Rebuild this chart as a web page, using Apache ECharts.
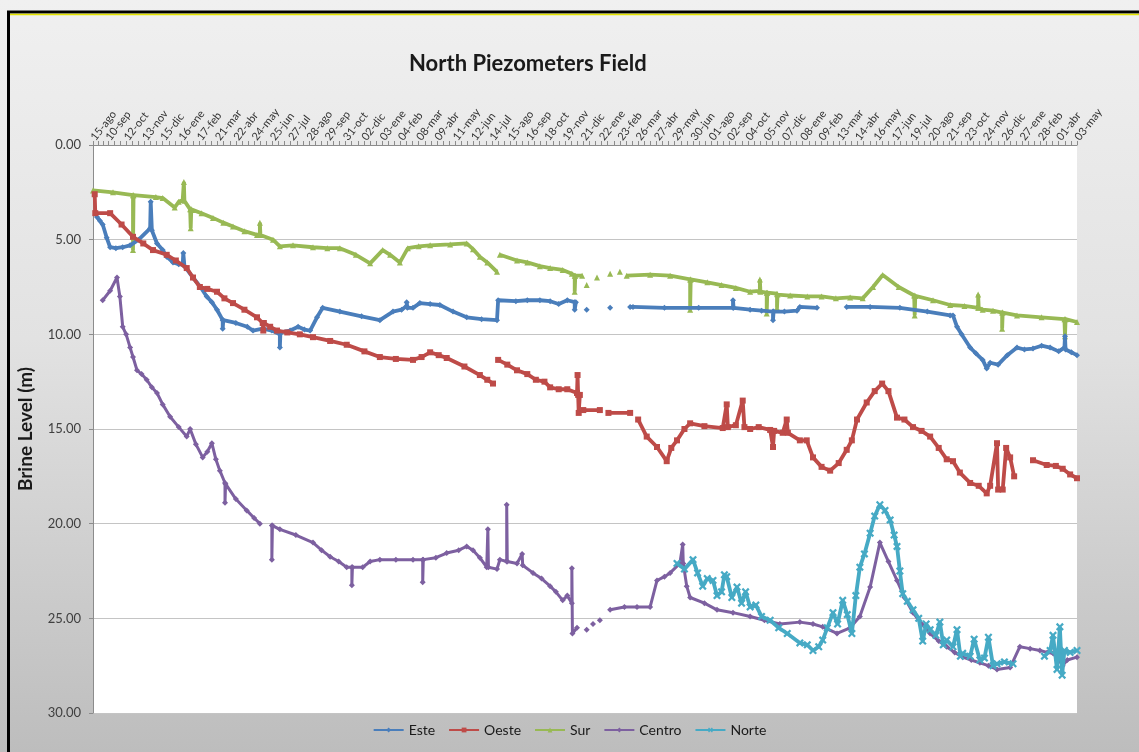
<!DOCTYPE html>
<html><head><meta charset="utf-8">
<script src="https://cdn.jsdelivr.net/npm/echarts@6/dist/echarts.min.js"></script>
<style>html,body{margin:0;padding:0;}#c{width:1139px;height:752px;}</style>
</head><body><div id="c"></div>
<script>
// x values are days counted from 15-ago-2009 ; y values are brine level in metres
const tickLabels = ['15-ago','10-sep','12-oct','13-nov','15-dic','16-ene','17-feb','21-mar','22-abr','24-may','25-jun','27-jul','28-ago','29-sep','31-oct','02-dic','03-ene','04-feb','08-mar','09-abr','11-may','12-jun','14-jul','15-ago','16-sep','18-oct','19-nov','21-dic','22-ene','23-feb','26-mar','27-abr','29-may','30-jun','01-ago','02-sep','04-oct','05-nov','07-dic','08-ene','09-feb','13-mar','14-abr','16-may','17-jun','19-jul','20-ago','21-sep','23-oct','24-nov','26-dic','27-ene','28-feb','01-abr','03-may'];
const seriesNames = ['Este','Oeste','Sur','Centro','Norte'];

const esteData = [[7,3.8],[12,4.0],[17,4.2],[24,4.9],[30,5.4],[40,5.45],[52,5.4],[65,5.3],[80,5.0],[100,4.4],[101,3.0],[103,4.5],[112,5.2],[122,5.55],[129,5.9],[140,6.2],[150,6.3],[157,6.3],[158,5.7],[160,6.4],[175,7.0],[188,7.5],[199,8.0],[208,8.3],[217,8.7],[227,9.25],[227,9.7],[228,9.25],[250,9.4],[270,9.6],[280,9.8],[297,9.7],[313,9.8],[327,10.0],[327,10.7],[328,9.9],[345,9.8],[359,9.6],[370,9.75],[380,9.8],[392,9.1],[402,8.6],[432,8.8],[470,9.05],[502,9.25],[525,8.8],[540,8.7],[549,8.5],[549,8.3],[550,8.6],[560,8.6],[572,8.35],[590,8.4],[607,8.45],[630,8.8],[654,9.1],[680,9.2],[707,9.25],[709,8.2],[740,8.25],[760,8.2],[782,8.2],[800,8.25],[815,8.4],[830,8.2],[843,8.3],[843,8.7],[845,8.3],[846,'-'],[864,8.7],[865,'-'],[905,8.6],[906,'-'],[940,8.55],[945,8.55],[1000,8.6],[1060,8.6],[1120,8.6],[1120,8.2],[1121,8.6],[1150,8.7],[1170,8.75],[1190,8.8],[1190,9.25],[1191,8.8],[1210,8.8],[1232,8.75],[1237,8.55],[1267,8.6],[1268,'-'],[1319,8.55],[1360,8.55],[1412,8.6],[1460,8.8],[1500,9.0],[1505,9.0],[1512,9.6],[1520,10.0],[1535,10.7],[1545,11.0],[1557,11.35],[1564,11.8],[1570,11.5],[1584,11.6],[1600,11.1],[1617,10.7],[1630,10.8],[1645,10.75],[1660,10.6],[1675,10.7],[1690,10.9],[1700,10.7],[1701,10.1],[1702,10.8],[1712,10.95],[1722,11.1]];

const oesteData = [[3,2.6],[4,3.6],[30,3.6],[50,4.2],[70,4.85],[88,5.2],[105,5.55],[129,5.8],[145,6.1],[164,6.5],[175,7.0],[187,7.5],[200,7.6],[217,7.75],[230,8.1],[245,8.35],[265,8.7],[287,9.1],[297,9.4],[298,9.8],[299,9.4],[310,9.6],[322,9.8],[340,9.9],[362,10.0],[385,10.15],[415,10.35],[444,10.55],[475,10.9],[502,11.2],[530,11.3],[560,11.35],[575,11.2],[590,10.95],[605,11.1],[619,11.25],[650,11.7],[677,12.15],[690,12.4],[700,12.6],[704,'-'],[709,11.35],[725,11.6],[742,11.9],[760,12.1],[775,12.4],[790,12.5],[800,12.8],[815,12.9],[830,12.9],[847,13.1],[848,12.15],[849,13.2],[850,14.15],[852,13.2],[854,'-'],[858,14.0],[887,14.0],[894,'-'],[902,14.15],[940,14.15],[948,'-'],[954,14.5],[969,15.4],[987,15.95],[1004,16.7],[1012,16.0],[1022,15.6],[1035,15.0],[1045,14.7],[1070,14.85],[1102,14.95],[1109,13.7],[1111,14.9],[1125,14.8],[1137,13.5],[1140,14.9],[1150,15.0],[1165,14.9],[1185,15.05],[1190,15.95],[1192,15.1],[1207,15.2],[1214,14.5],[1216,15.2],[1237,15.6],[1249,15.6],[1260,16.5],[1275,17.0],[1290,17.2],[1305,16.8],[1319,16.1],[1328,15.6],[1337,14.5],[1354,13.6],[1368,13.0],[1381,12.6],[1392,13.0],[1407,14.4],[1420,14.5],[1435,14.9],[1450,15.1],[1465,15.4],[1480,16.0],[1494,16.6],[1505,16.7],[1517,17.3],[1535,17.85],[1550,18.0],[1564,18.4],[1570,18.0],[1582,15.75],[1584,18.2],[1592,18.2],[1598,16.0],[1605,16.5],[1612,17.5],[1625,'-'],[1645,16.65],[1669,16.9],[1685,16.95],[1697,17.1],[1710,17.4],[1722,17.6]];

const surData = [[0,2.4],[35,2.5],[70,2.65],[70,5.55],[71,2.65],[110,2.75],[122,2.8],[143,3.3],[150,3.0],[157,2.9],[159,1.95],[160,2.95],[170,3.4],[171,4.4],[172,3.4],[190,3.6],[210,3.85],[228,4.1],[245,4.3],[265,4.55],[287,4.75],[292,4.7],[292,4.1],[293,4.75],[315,5.0],[327,5.35],[350,5.3],[385,5.4],[410,5.45],[432,5.45],[460,5.8],[485,6.25],[507,5.55],[520,5.8],[537,6.2],[551,5.45],[570,5.35],[590,5.3],[625,5.25],[654,5.2],[665,5.5],[677,5.9],[690,6.2],[707,6.7],[709,'-'],[712,5.8],[742,6.1],[760,6.2],[782,6.4],[800,6.5],[822,6.6],[838,6.8],[843,6.9],[843,7.75],[844,6.9],[856,6.9],[858,'-'],[864,7.4],[865,'-'],[882,7.0],[883,'-'],[905,6.8],[906,'-'],[922,6.7],[923,'-'],[934,6.9],[975,6.85],[1010,6.9],[1045,7.1],[1045,8.7],[1046,7.1],[1075,7.25],[1100,7.4],[1125,7.55],[1150,7.75],[1167,7.7],[1167,7.1],[1168,7.75],[1179,7.8],[1179,8.9],[1180,7.8],[1197,7.85],[1197,8.6],[1198,7.9],[1220,7.95],[1250,8.0],[1275,8.0],[1300,8.1],[1325,8.05],[1347,8.1],[1365,7.5],[1382,6.87],[1410,7.5],[1437,7.95],[1438,9.0],[1439,7.97],[1470,8.2],[1500,8.45],[1525,8.5],[1549,8.6],[1549,7.9],[1550,8.6],[1557,8.7],[1575,8.75],[1591,8.85],[1591,9.7],[1592,8.85],[1617,9.0],[1660,9.1],[1700,9.2],[1701,10.1],[1702,9.2],[1722,9.35]];

const centroData = [[17,8.2],[30,7.7],[42,7.0],[47,8.0],[52,9.6],[58,10.0],[65,10.7],[70,11.2],[77,11.9],[85,12.1],[94,12.4],[103,12.8],[112,13.1],[122,13.7],[135,14.35],[150,14.9],[164,15.4],[170,15.0],[180,15.8],[192,16.5],[200,16.2],[208,15.75],[215,16.6],[222,17.2],[231,17.85],[231,18.9],[232,17.9],[250,18.7],[269,19.3],[282,19.7],[292,20.0],[300,'-'],[313,20.1],[313,21.9],[314,20.1],[327,20.3],[355,20.6],[385,21.0],[400,21.4],[415,21.75],[430,22.0],[444,22.3],[453,22.3],[453,23.25],[454,22.3],[472,22.3],[485,22.0],[502,21.9],[530,21.9],[560,21.9],[577,21.9],[577,23.1],[578,21.9],[600,21.8],[619,21.55],[640,21.4],[654,21.2],[665,21.4],[677,21.8],[689,22.3],[691,20.3],[692,22.3],[707,22.4],[712,21.9],[724,22.0],[724,19.0],[725,22.0],[742,22.1],[751,21.6],[752,22.2],[770,22.6],[785,22.9],[800,23.3],[810,23.6],[822,24.05],[830,23.8],[838,24.2],[838,22.35],[839,25.8],[847,25.5],[852,'-'],[864,25.6],[865,'-'],[875,25.3],[876,'-'],[887,25.1],[890,'-'],[905,24.55],[930,24.4],[952,24.4],[975,24.4],[987,23.0],[1000,22.8],[1010,22.6],[1027,22.1],[1032,21.1],[1033,22.1],[1039,23.3],[1045,23.9],[1070,24.2],[1092,24.55],[1120,24.7],[1150,24.9],[1175,25.1],[1202,25.3],[1237,25.2],[1260,25.3],[1277,25.45],[1302,25.8],[1325,25.5],[1342,24.9],[1360,23.35],[1377,21.0],[1392,22.0],[1407,23.0],[1420,23.9],[1435,24.7],[1450,25.3],[1465,25.8],[1480,26.2],[1494,26.5],[1508,26.8],[1522,27.05],[1537,27.2],[1552,27.35],[1567,27.5],[1582,27.7],[1605,27.6],[1622,26.5],[1640,26.6],[1657,26.7],[1670,26.8],[1680,26.85],[1690,27.2],[1697,27.5],[1705,27.2],[1722,27.05]];

const norteData = [[1022,22.1],[1035,22.4],[1050,21.9],[1058,22.6],[1067,23.3],[1075,22.9],[1085,23.0],[1092,23.8],[1100,23.6],[1105,22.7],[1109,22.8],[1118,23.9],[1127,23.35],[1135,24.2],[1142,23.6],[1150,24.4],[1160,24.3],[1170,24.9],[1185,25.1],[1200,25.5],[1215,25.8],[1237,26.3],[1250,26.4],[1260,26.7],[1270,26.5],[1277,26.15],[1285,25.5],[1295,24.7],[1303,25.3],[1312,24.05],[1320,24.8],[1328,25.8],[1335,23.8],[1342,22.3],[1350,21.6],[1360,20.5],[1368,19.6],[1377,19.0],[1386,19.3],[1395,19.8],[1402,20.6],[1407,21.2],[1412,22.5],[1417,23.7],[1425,24.1],[1435,24.55],[1445,25.0],[1452,26.2],[1458,25.3],[1465,25.6],[1475,25.9],[1482,25.2],[1488,26.4],[1494,26.15],[1505,26.5],[1512,25.6],[1518,27.0],[1522,26.85],[1535,27.0],[1542,26.1],[1552,27.2],[1560,27.1],[1567,26.0],[1575,27.5],[1582,27.4],[1595,27.3],[1610,27.4],[1630,'-'],[1665,27.0],[1675,26.7],[1680,25.9],[1687,27.7],[1692,25.45],[1696,28.0],[1700,26.7],[1710,26.8],[1722,26.7]];

const colors = ['#4a7ebb','#be4b48','#98b954','#7d60a0','#46aac5'];
const symbols = ['diamond','rect','triangle','diamond','path://M0,2L2,0L5,3L8,0L10,2L7,5L10,8L8,10L5,7L2,10L0,8L3,5Z'];
const allData = [esteData, oesteData, surData, centroData, norteData];

const tickDays = tickLabels.map((t,i)=> i===0 ? 0 : 26 + 32*(i-1));
const minorDays = [];
for (let i=1;i<tickDays.length;i++){ const a=tickDays[i-1], b=tickDays[i]; minorDays.push(a, a+(b-a)/3, a+2*(b-a)/3); }
minorDays.push(tickDays[tickDays.length-1]);

const chart = echarts.init(document.getElementById('c'));
const font = 'Lato, "Open Sans", sans-serif';
chart.setOption({
  animation:false,
  backgroundColor:{type:'linear',x:0,y:0,x2:0,y2:1,colorStops:[{offset:0,color:'#f0f0f0'},{offset:0.45,color:'#e2e2e2'},{offset:1,color:'#bdbdbd'}]},
  title:{text:'North Piezometers Field',left:404,top:48,textStyle:{fontFamily:font,fontSize:22,fontWeight:'bold',color:'#1a1a1a'}},
  legend:{bottom:10,left:'center',itemWidth:30,itemHeight:6,itemGap:13,textStyle:{fontFamily:font,fontSize:14,color:'#1a1a1a'},data:seriesNames},
  grid:{left:93,right:62,top:145,bottom:39,show:true,backgroundColor:'#ffffff',borderWidth:0},
  xAxis:{type:'value',position:'top',min:0,max:1722,
    axisLine:{show:true,lineStyle:{color:'#8c8c8c'}},
    axisTick:{show:true,customValues:minorDays,length:4,inside:false,lineStyle:{color:'#8c8c8c'}},
    axisLabel:{customValues:tickDays,rotate:52,fontFamily:font,fontSize:11,color:'#333',margin:6,
      showMinLabel:true,showMaxLabel:true,hideOverlap:false,
      formatter:(v)=>{const i=tickDays.indexOf(v);return i>=0?tickLabels[i]:'';}},
    splitLine:{show:false}},
  yAxis:{type:'value',inverse:true,min:0,max:30,interval:5,
    name:'Brine Level (m)',nameLocation:'middle',nameGap:58,nameTextStyle:{fontFamily:font,fontSize:19,fontWeight:'bold',color:'#1a1a1a'},
    axisLine:{show:true,lineStyle:{color:'#8c8c8c'}},axisTick:{show:true,length:4,lineStyle:{color:'#8c8c8c'}},
    axisLabel:{formatter:(v)=>v.toFixed(2),fontFamily:font,fontSize:13,color:'#404040',margin:12},
    splitLine:{lineStyle:{color:'#c4c4c4',width:1}}},
  series: seriesNames.map((n,i)=>({name:n,type:'line',data:allData[i],connectNulls:false,
    symbol:symbols[i],symbolSize:i===4?8:6,showSymbol:true,
    lineStyle:{color:colors[i],width:i===3?3:3.8},itemStyle:{color:colors[i]},z:[3,4,2,5,6][i]})),
  graphic:[
    {type:'rect',shape:{x:8.5,y:12,width:1140,height:760},style:{fill:'none',stroke:'#000',lineWidth:3},silent:true},
    {type:'line',shape:{x1:10,y1:14.5,x2:1139,y2:14.5},style:{stroke:'#e6e600',lineWidth:1.5},silent:true}
  ]
});
</script></body></html>
